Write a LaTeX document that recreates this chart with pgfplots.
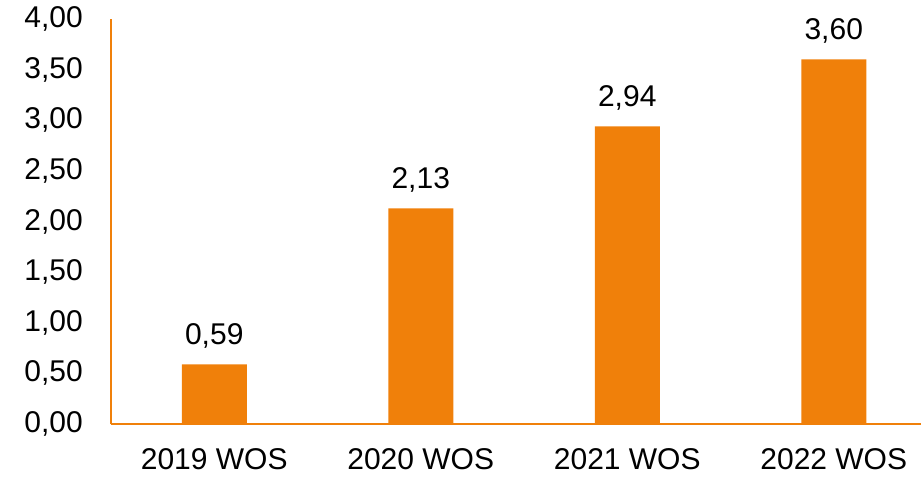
\documentclass[border=0pt]{standalone}
\usepackage{fontspec}
\setmainfont{Liberation Sans}
\usepackage{pgfplots}
\pgfplotsset{compat=1.18}
\definecolor{barorange}{RGB}{240,128,10}
\begin{document}
\begin{tikzpicture}
\begin{axis}[
  scale only axis, width=810bp, height=405bp,
  xmin=-0.5, xmax=3.4225, ymin=0, ymax=4,
  axis x line=bottom, axis y line=left,
  axis line style={barorange, line width=2bp, -},
  xtick={0,1,2,3},
  xticklabels={2019 WOS,2020 WOS,2021 WOS,2022 WOS},
  ytick={0,0.5,1,1.5,2,2.5,3,3.5,4},
  major tick length=0pt,
  tick label style={font=\fontsize{30bp}{34bp}\selectfont, text=black, inner sep=0pt},
  yticklabel style={anchor=east, xshift=-28bp},
  xticklabel style={anchor=north, yshift=-24bp},
  /pgf/number format/assume math mode=true,
  /pgf/number format/fixed,
  /pgf/number format/fixed zerofill,
  /pgf/number format/precision=2,
  /pgf/number format/use comma,
  ybar, bar width=65bp,
  nodes near coords,
  every node near coord/.append style={font=\fontsize{30bp}{34bp}\selectfont, text=black, anchor=base, inner sep=0pt, yshift=20bp},
  clip=false,
]
\addplot[fill=barorange, draw=none] coordinates {(0,0.59) (1,2.13) (2,2.94) (3,3.60)};
\coordinate (O) at (rel axis cs:0,0);
\end{axis}
\pgfresetboundingbox
\path ([shift={(-111bp,-56bp)}]O) rectangle ([shift={(810bp,424bp)}]O);
\end{tikzpicture}
\end{document}
